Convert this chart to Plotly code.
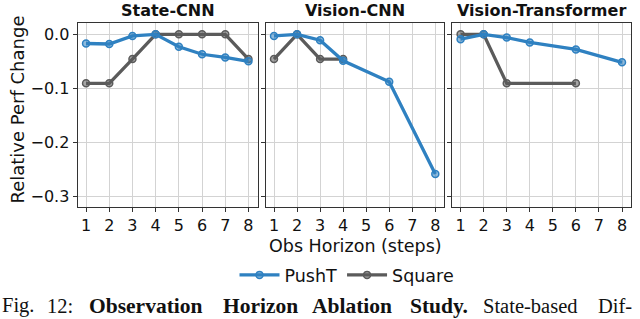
import plotly.graph_objects as go

x_steps = [1, 2, 3, 4, 5, 6, 7, 8]
panels = ["State-CNN", "Vision-CNN", "Vision-Transformer"]

state_pusht_x = [1, 2, 3, 4, 5, 6, 7, 8]
state_pusht_y = [-0.017, -0.018, -0.003, 0.0, -0.023, -0.037, -0.043, -0.050]
state_square_x = [1, 2, 3, 4, 5, 6, 7, 8]
state_square_y = [-0.091, -0.091, -0.046, 0.0, 0.0, 0.0, 0.0, -0.046]

vcnn_pusht_x = [1, 2, 3, 4, 6, 8]
vcnn_pusht_y = [-0.003, 0.0, -0.011, -0.049, -0.088, -0.259]
vcnn_square_x = [1, 2, 3, 4]
vcnn_square_y = [-0.046, 0.0, -0.046, -0.046]

vt_pusht_x = [1, 2, 3, 4, 6, 8]
vt_pusht_y = [-0.009, 0.0, -0.006, -0.015, -0.028, -0.052]
vt_square_x = [1, 2, 3, 6]
vt_square_y = [0.0, 0.0, -0.091, -0.091]

y_ticks = [0.0, -0.1, -0.2, -0.3]

caption_words = [("Fig.", False), ("12:", False), ("Observation", True),
                 ("Horizon", True), ("Ablation", True), ("Study.", True),
                 ("State-based", False), ("Dif-", False)]

BLUE = "#2f81c1"
BLUE_FILL = "rgba(47,129,193,0.55)"
GRAY = "#5b5b5b"
GRAY_FILL = "rgba(91,91,91,0.55)"

W, H = 640, 319
FONT = "DejaVu Sans"

fig = go.Figure()

data = [
    (state_pusht_x, state_pusht_y, state_square_x, state_square_y),
    (vcnn_pusht_x, vcnn_pusht_y, vcnn_square_x, vcnn_square_y),
    (vt_pusht_x, vt_pusht_y, vt_square_x, vt_square_y),
]
domains_px = [(77.7, 257.5), (265.7, 444.3), (452.3, 631.0)]

for i, (px, py, sx, sy) in enumerate(data):
    ax = "" if i == 0 else str(i + 1)
    fig.add_trace(go.Scatter(
        x=sx, y=sy, mode="lines+markers", name="Square",
        line=dict(color=GRAY, width=3.3),
        marker=dict(size=7, color=GRAY_FILL, line=dict(color=GRAY, width=1.5)),
        xaxis="x" + ax, yaxis="y" + ax, showlegend=(i == 0)))
    fig.add_trace(go.Scatter(
        x=px, y=py, mode="lines+markers", name="PushT",
        line=dict(color=BLUE, width=3.3),
        marker=dict(size=7, color=BLUE_FILL, line=dict(color=BLUE, width=1.5)),
        xaxis="x" + ax, yaxis="y" + ax, showlegend=(i == 0)))

y_dom = [1 - 207.0 / H, 1 - 23.0 / H]
axis_common = dict(showline=True, linecolor="#333333", linewidth=1.3, mirror=True,
                   showgrid=True, gridcolor="#d3d3d3", gridwidth=1, zeroline=False,
                   ticks="outside", ticklen=4, tickcolor="#333333", tickwidth=1.2,
                   tickfont=dict(family=FONT, size=16, color="#111111"))
layout = {}
for i, (l, r) in enumerate(domains_px):
    ax = "" if i == 0 else str(i + 1)
    layout["xaxis" + ax] = dict(axis_common, domain=[l / W, r / W], range=[0.64, 8.39],
                                tickvals=x_steps, anchor="y" + ax)
    layout["yaxis" + ax] = dict(axis_common, domain=y_dom, range=[-0.3204, 0.021],
                                tickvals=y_ticks, tickformat=".1f",
                                showticklabels=(i == 0), anchor="x" + ax)

annotations = []
for i, (l, r) in enumerate(domains_px):
    annotations.append(dict(text="<b>%s</b>" % panels[i], x=(l + r) / 2 / W, y=1 - 11.0 / H,
                            xref="paper", yref="paper", showarrow=False,
                            font=dict(family=FONT, size=16, color="#111111"),
                            xanchor="center", yanchor="middle"))
annotations.append(dict(text="Relative Perf Change", textangle=-90, x=16.5 / W, y=1 - 110.0 / H,
                        xref="paper", yref="paper", showarrow=False,
                        font=dict(family=FONT, size=18, color="#111111"),
                        xanchor="center", yanchor="middle"))
annotations.append(dict(text="Obs Horizon (steps)", x=355.0 / W, y=1 - 246.0 / H,
                        xref="paper", yref="paper", showarrow=False,
                        font=dict(family=FONT, size=17.5, color="#111111"),
                        xanchor="center", yanchor="middle"))

caption_x_px = [0, 45, 87, 221, 310, 408, 481, 596]
for (word, bold), xpx in zip(caption_words, caption_x_px):
    annotations.append(dict(text=("<b>%s</b>" % word) if bold else word,
                            x=xpx / W, y=1 - 305.5 / H, xref="paper", yref="paper",
                            showarrow=False, xanchor="left", yanchor="middle",
                            font=dict(family="Liberation Serif", size=20.5 if not bold else 21.5,
                                      color="#111111")))

fig.update_layout(
    width=W, height=H, margin=dict(l=0, r=0, t=0, b=0),
    paper_bgcolor="white", plot_bgcolor="white",
    showlegend=True,
    legend=dict(orientation="h", x=347.0 / W, y=1 - 275.0 / H, xanchor="center", yanchor="middle",
                font=dict(family=FONT, size=17.5, color="#111111"), bgcolor="rgba(0,0,0,0)",
                traceorder="reversed", itemwidth=40),
    annotations=annotations,
    **layout)

fig.write_html("out.html", config={"displayModeBar": False},
               post_script="document.body.style.margin='0';document.body.style.overflow='hidden';")
